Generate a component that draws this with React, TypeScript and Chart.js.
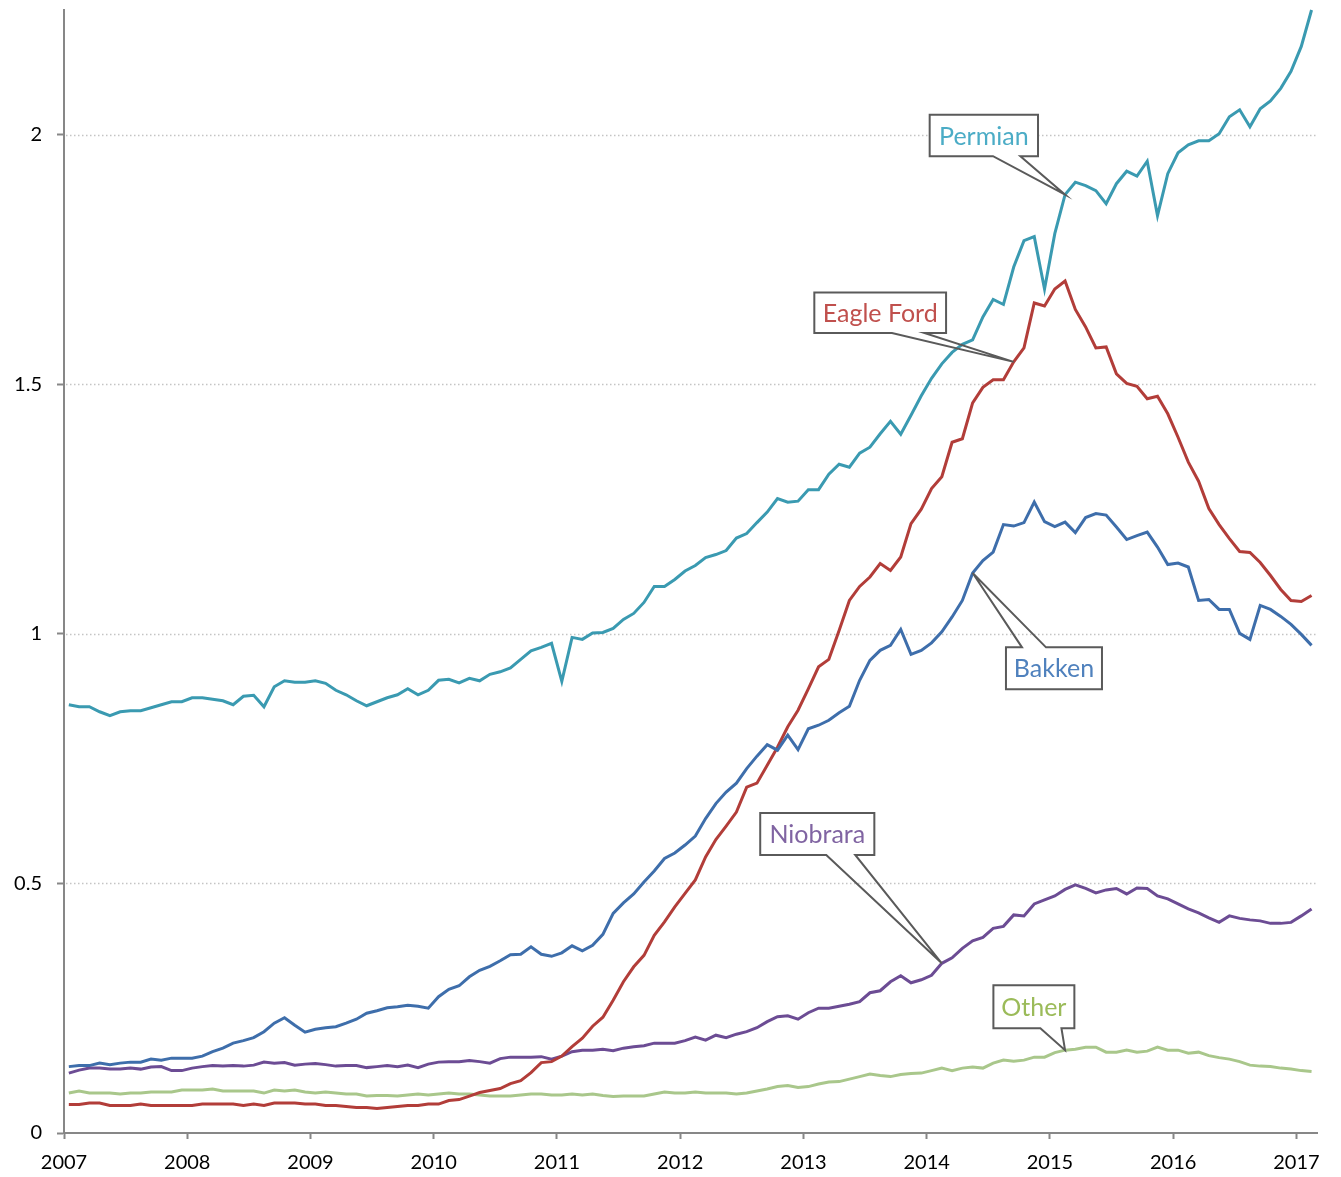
import React, { useEffect, useRef } from "react";
import { Chart, registerables } from "chart.js";

Chart.register(...registerables);

// ---- data (monthly, Jan 2007 – Feb 2017) ----
const startYear = 2007;
const yearTicks = [2007, 2008, 2009, 2010, 2011, 2012, 2013, 2014, 2015, 2016, 2017];
const valueTicks = [0, 0.5, 1, 1.5, 2];

const permian = [
  0.858, 0.854, 0.854, 0.844, 0.836, 0.844, 0.846, 0.846, 0.852, 0.858,
  0.864, 0.864, 0.872, 0.872, 0.869, 0.866, 0.858, 0.875, 0.877, 0.854,
  0.894, 0.906, 0.903, 0.903, 0.906, 0.901, 0.887, 0.878, 0.866, 0.856,
  0.864, 0.872, 0.878, 0.890, 0.878, 0.887, 0.907, 0.909, 0.902, 0.911,
  0.906, 0.919, 0.924, 0.932, 0.949, 0.966, 0.973, 0.981, 0.905, 0.993,
  0.989, 1.002, 1.003, 1.011, 1.029, 1.041, 1.063, 1.095, 1.095, 1.109,
  1.126, 1.137, 1.153, 1.159, 1.167, 1.192, 1.201, 1.223, 1.244, 1.271,
  1.264, 1.266, 1.289, 1.289, 1.320, 1.340, 1.334, 1.362, 1.374, 1.401,
  1.426, 1.400, 1.438, 1.477, 1.512, 1.541, 1.564, 1.580, 1.589, 1.635,
  1.670, 1.660, 1.735, 1.788, 1.796, 1.691, 1.802, 1.880, 1.905, 1.898,
  1.888, 1.862, 1.902, 1.927, 1.917, 1.947, 1.838, 1.922, 1.964, 1.980,
  1.988, 1.988, 2.002, 2.036, 2.050, 2.016, 2.052, 2.068, 2.093, 2.127,
  2.177, 2.25,
];

const eagleFord = [
  0.057, 0.057, 0.060, 0.060, 0.055, 0.055, 0.055, 0.058, 0.055, 0.055,
  0.055, 0.055, 0.055, 0.058, 0.058, 0.058, 0.058, 0.055, 0.058, 0.055,
  0.060, 0.060, 0.060, 0.058, 0.058, 0.055, 0.055, 0.053, 0.051, 0.051,
  0.049, 0.051, 0.053, 0.055, 0.055, 0.058, 0.058, 0.065, 0.067, 0.074,
  0.081, 0.085, 0.089, 0.099, 0.105, 0.121, 0.141, 0.143, 0.154, 0.173,
  0.190, 0.214, 0.232, 0.266, 0.303, 0.333, 0.356, 0.396, 0.423, 0.453,
  0.480, 0.507, 0.553, 0.588, 0.615, 0.643, 0.693, 0.701, 0.737, 0.773,
  0.814, 0.847, 0.890, 0.934, 0.949, 1.007, 1.067, 1.095, 1.114, 1.141,
  1.127, 1.154, 1.221, 1.250, 1.291, 1.315, 1.384, 1.391, 1.463, 1.494,
  1.509, 1.509, 1.545, 1.573, 1.663, 1.657, 1.691, 1.707, 1.650, 1.615,
  1.573, 1.575, 1.521, 1.502, 1.496, 1.471, 1.476, 1.441, 1.394, 1.344,
  1.306, 1.251, 1.219, 1.191, 1.165, 1.163, 1.143, 1.117, 1.089, 1.067,
  1.065, 1.077,
];

const bakken = [
  0.133, 0.135, 0.135, 0.140, 0.137, 0.140, 0.142, 0.142, 0.148, 0.146,
  0.150, 0.150, 0.150, 0.154, 0.163, 0.170, 0.180, 0.185, 0.191, 0.203,
  0.220, 0.231, 0.216, 0.202, 0.208, 0.211, 0.213, 0.220, 0.228, 0.240,
  0.245, 0.251, 0.253, 0.256, 0.254, 0.250, 0.273, 0.288, 0.295, 0.313,
  0.326, 0.334, 0.345, 0.357, 0.358, 0.373, 0.358, 0.354, 0.361, 0.375,
  0.365, 0.376, 0.398, 0.440, 0.461, 0.479, 0.503, 0.525, 0.550, 0.561,
  0.577, 0.595, 0.630, 0.660, 0.683, 0.701, 0.730, 0.755, 0.778, 0.767,
  0.797, 0.768, 0.810, 0.817, 0.827, 0.842, 0.855, 0.907, 0.947, 0.967,
  0.977, 1.009, 0.959, 0.967, 0.982, 1.004, 1.034, 1.067, 1.122, 1.147,
  1.164, 1.219, 1.216, 1.223, 1.264, 1.225, 1.215, 1.224, 1.203, 1.233,
  1.241, 1.238, 1.214, 1.189, 1.197, 1.204, 1.174, 1.139, 1.142, 1.134,
  1.067, 1.069, 1.049, 1.049, 1.001, 0.989, 1.057, 1.049, 1.035, 1.019,
  0.999, 0.977,
];

const niobrara = [
  0.120, 0.126, 0.130, 0.130, 0.128, 0.128, 0.130, 0.128, 0.132, 0.133,
  0.125, 0.125, 0.130, 0.133, 0.135, 0.134, 0.135, 0.134, 0.136, 0.142,
  0.140, 0.141, 0.136, 0.138, 0.139, 0.137, 0.134, 0.135, 0.135, 0.131,
  0.133, 0.135, 0.133, 0.136, 0.131, 0.138, 0.142, 0.143, 0.143, 0.145,
  0.143, 0.140, 0.149, 0.152, 0.152, 0.152, 0.153, 0.148, 0.154, 0.163,
  0.166, 0.166, 0.168, 0.165, 0.170, 0.173, 0.175, 0.180, 0.180, 0.180,
  0.185, 0.192, 0.186, 0.196, 0.191, 0.198, 0.203, 0.211, 0.223, 0.233,
  0.235, 0.228, 0.241, 0.250, 0.250, 0.254, 0.258, 0.263, 0.281, 0.285,
  0.303, 0.315, 0.301, 0.307, 0.316, 0.340, 0.351, 0.370, 0.385, 0.392,
  0.410, 0.414, 0.437, 0.435, 0.459, 0.467, 0.475, 0.488, 0.497, 0.490,
  0.481, 0.487, 0.490, 0.479, 0.491, 0.490, 0.475, 0.469, 0.459, 0.449,
  0.441, 0.431, 0.422, 0.435, 0.430, 0.427, 0.425, 0.420, 0.420, 0.422,
  0.435, 0.449,
];

const other = [
  0.080, 0.084, 0.080, 0.080, 0.080, 0.078, 0.080, 0.080, 0.082, 0.082,
  0.082, 0.086, 0.086, 0.086, 0.088, 0.084, 0.084, 0.084, 0.084, 0.080,
  0.086, 0.084, 0.086, 0.082, 0.080, 0.082, 0.080, 0.078, 0.078, 0.074,
  0.075, 0.075, 0.074, 0.076, 0.078, 0.076, 0.078, 0.080, 0.078, 0.078,
  0.076, 0.074, 0.074, 0.074, 0.076, 0.078, 0.078, 0.076, 0.076, 0.078,
  0.076, 0.078, 0.075, 0.073, 0.074, 0.074, 0.074, 0.078, 0.082, 0.080,
  0.080, 0.082, 0.080, 0.080, 0.080, 0.078, 0.080, 0.084, 0.088, 0.093,
  0.095, 0.091, 0.093, 0.098, 0.102, 0.103, 0.108, 0.113, 0.118, 0.115,
  0.113, 0.117, 0.119, 0.120, 0.125, 0.130, 0.125, 0.130, 0.132, 0.130,
  0.140, 0.146, 0.144, 0.146, 0.152, 0.152, 0.161, 0.166, 0.168, 0.172,
  0.172, 0.162, 0.162, 0.166, 0.162, 0.164, 0.172, 0.166, 0.166, 0.160,
  0.162, 0.155, 0.151, 0.148, 0.143, 0.136, 0.134, 0.133, 0.130, 0.128,
  0.125, 0.123,
];

// series: name, values, line colour, label colour
const seriesList = [
  { name: "Bakken", values: bakken, line: "#3E6EAB", text: "#4F81BD" },
  { name: "Eagle Ford", values: eagleFord, line: "#B23D39", text: "#C0504D" },
  { name: "Permian", values: permian, line: "#3A9AB1", text: "#4BACC6" },
  { name: "Niobrara", values: niobrara, line: "#6C4C94", text: "#8064A2" },
  { name: "Other", values: other, line: "#A9C78B", text: "#9BBB59" },
];

// callouts: box in data units (x = year, y = value), wedge base x's, tip at a data index
const callouts = [
  { series: "Permian", tip: 97, x0: 2014.024, x1: 2014.903, y0: 1.957, y1: 2.040, b1: 2014.538, b2: 2014.760, side: "bottom" },
  { series: "Eagle Ford", tip: 92, x0: 2013.088, x1: 2014.157, y0: 1.603, y1: 1.684, b1: 2013.718, b2: 2013.981, side: "bottom" },
  { series: "Bakken", tip: 88, x0: 2014.643, x1: 2015.422, y0: 0.889, y1: 0.973, b1: 2014.773, b2: 2014.968, side: "top" },
  { series: "Niobrara", tip: 85, x0: 2012.649, x1: 2013.575, y0: 0.557, y1: 0.641, b1: 2013.185, b2: 2013.420, side: "bottom" },
  { series: "Other", tip: 97, x0: 2014.541, x1: 2015.198, y0: 0.210, y1: 0.296, b1: 2014.922, b2: 2015.093, side: "bottom" },
];

const monthX = (i: number) => startYear + (i + 0.47) / 12;
const FONT = "Lato, 'Noto Sans', sans-serif";

const gridPlugin = {
  id: "dottedGrid",
  beforeDatasetsDraw(chart: any) {
    const { ctx, chartArea, scales } = chart;
    ctx.save();
    ctx.strokeStyle = "#c4c4c4";
    ctx.lineWidth = 1.5;
    ctx.setLineDash([1.5, 2.5]);
    valueTicks.forEach((v) => {
      if (v === 0) return;
      const y = Math.round(scales.y.getPixelForValue(v)) + 0.5;
      ctx.beginPath();
      ctx.moveTo(chartArea.left + 2, y);
      ctx.lineTo(chartArea.right, y);
      ctx.stroke();
    });
    ctx.restore();
  },
};

const calloutPlugin = {
  id: "callouts",
  afterDatasetsDraw(chart: any) {
    const { ctx, scales } = chart;
    const xs = scales.x;
    const ys = scales.y;
    callouts.forEach((c) => {
      const s = seriesList.find((q) => q.name === c.series)!;
      const L = xs.getPixelForValue(c.x0);
      const R = xs.getPixelForValue(c.x1);
      const T = ys.getPixelForValue(c.y1);
      const B = ys.getPixelForValue(c.y0);
      const b1 = xs.getPixelForValue(c.b1);
      const b2 = xs.getPixelForValue(c.b2);
      const tx = xs.getPixelForValue(monthX(c.tip));
      const ty = ys.getPixelForValue(s.values[c.tip]);
      ctx.save();
      ctx.fillStyle = "#ffffff";
      ctx.fillRect(L, T, R - L, B - T);
      ctx.beginPath();
      if (c.side === "bottom") {
        ctx.moveTo(L, T);
        ctx.lineTo(R, T);
        ctx.lineTo(R, B);
        ctx.lineTo(b2, B);
        ctx.lineTo(tx, ty);
        ctx.lineTo(b1, B);
        ctx.lineTo(L, B);
      } else {
        ctx.moveTo(L, B);
        ctx.lineTo(L, T);
        ctx.lineTo(b1, T);
        ctx.lineTo(tx, ty);
        ctx.lineTo(b2, T);
        ctx.lineTo(R, T);
        ctx.lineTo(R, B);
      }
      ctx.closePath();
      ctx.strokeStyle = "#5a5a5a";
      ctx.lineWidth = 2;
      ctx.lineJoin = "miter";
      ctx.stroke();
      ctx.fillStyle = s.text;
      ctx.font = `25px ${FONT}`;
      ctx.textAlign = "center";
      ctx.textBaseline = "middle";
      ctx.fillText(s.name, (L + R) / 2, (T + B) / 2 + 1);
      ctx.restore();
    });
  },
};

export default function App() {
  const ref = useRef<HTMLCanvasElement | null>(null);

  useEffect(() => {
    if (!ref.current) return;
    const chart = new Chart(ref.current, {
      type: "line",
      data: {
        datasets: seriesList.map((s) => ({
          label: s.name,
          data: s.values.map((v, i) => ({ x: monthX(i), y: v })),
          borderColor: s.line,
          backgroundColor: s.line,
          borderWidth: 3,
          pointRadius: 0,
          tension: 0,
          fill: false,
          clip: false as any,
        })),
      },
      options: {
        animation: false,
        responsive: false,
        maintainAspectRatio: false,
        layout: { padding: { top: 10, right: 24, left: 0, bottom: 0 } },
        plugins: { legend: { display: false }, tooltip: { enabled: false } },
        scales: {
          x: {
            type: "linear",
            min: startYear,
            max: startYear + 122 / 12,
            afterBuildTicks: (axis: any) => {
              axis.ticks = yearTicks.map((v) => ({ value: v }));
            },
            afterFit: (axis: any) => {
              axis.height = 44;
              axis.paddingLeft = 0;
              axis.paddingRight = 0;
            },
            border: { display: true, color: "#878787", width: 2 },
            grid: {
              drawOnChartArea: false,
              drawTicks: true,
              tickLength: 6,
              tickColor: "#878787",
              tickWidth: 2,
            },
            ticks: {
              autoSkip: false,
              maxRotation: 0,
              padding: 12,
              color: "#000000",
              font: { family: FONT, size: 20 },
              callback: (v: any) => String(v),
            },
          },
          y: {
            type: "linear",
            min: 0,
            max: 2.25,
            afterBuildTicks: (axis: any) => {
              axis.ticks = valueTicks.map((v) => ({ value: v }));
            },
            afterFit: (axis: any) => {
              axis.width = 64;
              axis.paddingTop = 0;
              axis.paddingBottom = 0;
            },
            border: { display: true, color: "#878787", width: 2 },
            grid: {
              drawOnChartArea: false,
              drawTicks: true,
              tickLength: 7,
              tickColor: "#878787",
              tickWidth: 2,
            },
            ticks: {
              padding: 15,
              color: "#000000",
              font: { family: FONT, size: 20 },
              callback: (v: any) => String(v),
            },
          },
        },
      },
      plugins: [gridPlugin, calloutPlugin],
    });
    return () => chart.destroy();
  }, []);

  return (
    <div style={{ position: "absolute", left: 0, top: 0, width: 1341, height: 1177, background: "#ffffff" }}>
      <canvas ref={ref} width={1341} height={1177} style={{ width: 1341, height: 1177 }} />
    </div>
  );
}
